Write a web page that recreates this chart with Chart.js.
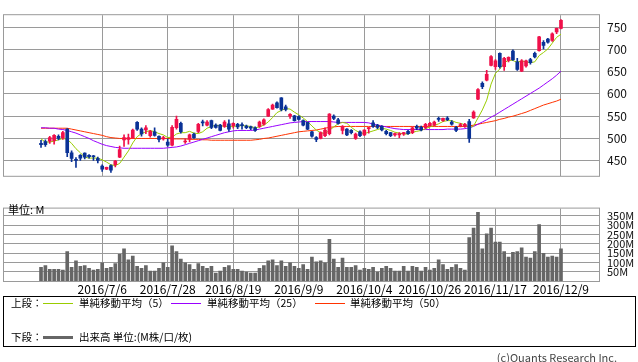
<!DOCTYPE html>
<html>
<head>
<meta charset="utf-8">
<script src="https://cdn.jsdelivr.net/npm/chart.js@4.4.0/dist/chart.umd.min.js"></script>
<style>
  body { margin: 0; width: 638px; height: 362px; background: #fff; position: relative; overflow: hidden;
         font-family: 'Noto Sans CJK JP', sans-serif; color: #000; }
  canvas { position: absolute; left: 0; }
  #price { top: 0; }
  #vol { top: 194px; }
  .t { position: absolute; font-size: 10.5px; line-height: 14px; white-space: nowrap; }
  .ln { position: absolute; height: 1px; width: 30px; }
  #box { position: absolute; left: 3px; top: 296px; width: 631px; height: 49px; border: 1px solid #000; }
</style>
</head>
<body>
<canvas id="price" width="638" height="191"></canvas>
<canvas id="vol" width="638" height="106"></canvas>
<div class="t" style="left:8px;top:202px;font-size:11px;">単位: M</div>
<div id="box"></div>
<div class="t" style="left:11px;top:296px;">上段：</div>
<div class="ln" style="left:43px;top:303px;background:#99cc00;"></div>
<div class="t" style="left:79px;top:296px;">単純移動平均（5）</div>
<div class="ln" style="left:171px;top:303px;background:#9900ff;"></div>
<div class="t" style="left:207px;top:296px;">単純移動平均（25）</div>
<div class="ln" style="left:315px;top:303px;background:#ff3300;"></div>
<div class="t" style="left:350px;top:296px;">単純移動平均（50）</div>
<div class="t" style="left:11px;top:330px;">下段：</div>
<div class="ln" style="left:43px;top:336px;height:3px;background:#666;"></div>
<div class="t" style="left:79px;top:330px;">出来高 単位:(M株/口/枚)</div>
<div class="t" style="right:21px;top:350px;font-size:11px;color:#444;">(c)Quants Research Inc.</div>
<script>
const dates = [
  '2016/6/16','2016/6/17','2016/6/20','2016/6/21','2016/6/22','2016/6/23','2016/6/24','2016/6/27','2016/6/28','2016/6/29',
  '2016/6/30','2016/7/1','2016/7/4','2016/7/5','2016/7/6','2016/7/7','2016/7/8','2016/7/11','2016/7/12','2016/7/13',
  '2016/7/14','2016/7/15','2016/7/19','2016/7/20','2016/7/21','2016/7/22','2016/7/25','2016/7/26','2016/7/27','2016/7/28',
  '2016/7/29','2016/8/1','2016/8/2','2016/8/3','2016/8/4','2016/8/5','2016/8/8','2016/8/9','2016/8/10','2016/8/12',
  '2016/8/15','2016/8/16','2016/8/17','2016/8/18','2016/8/19','2016/8/22','2016/8/23','2016/8/24','2016/8/25','2016/8/26',
  '2016/8/29','2016/8/30','2016/8/31','2016/9/1','2016/9/2','2016/9/5','2016/9/6','2016/9/7','2016/9/8','2016/9/9',
  '2016/9/12','2016/9/13','2016/9/14','2016/9/15','2016/9/16','2016/9/20','2016/9/21','2016/9/23','2016/9/26','2016/9/27',
  '2016/9/28','2016/9/29','2016/9/30','2016/10/3','2016/10/4','2016/10/5','2016/10/6','2016/10/7','2016/10/11','2016/10/12',
  '2016/10/13','2016/10/14','2016/10/17','2016/10/18','2016/10/19','2016/10/20','2016/10/21','2016/10/24','2016/10/25','2016/10/26',
  '2016/10/27','2016/10/28','2016/10/31','2016/11/1','2016/11/2','2016/11/4','2016/11/7','2016/11/8','2016/11/9','2016/11/10',
  '2016/11/11','2016/11/14','2016/11/15','2016/11/16','2016/11/17','2016/11/18','2016/11/21','2016/11/22','2016/11/24','2016/11/25',
  '2016/11/28','2016/11/29','2016/11/30','2016/12/1','2016/12/2','2016/12/5','2016/12/6','2016/12/7','2016/12/8','2016/12/9'
];
const open = [
  489,493,494,495,505,501,521,468,452,462, 467,462,460,455,438,431,439,441,458,497,
  498,502,536,521,519,506,515,505,499,492, 485,524,534,492,499,510,516,536,530,540,
  530,530,527,533,529,532,530,528,526,524, 527,532,550,566,580,591,571,550,551,549,
  540,536,515,502,500,506,511,550,542,518, 521,518,500,515,508,522,535,530,527,516,
  513,508,508,510,516,513,527,525,524,529, 530,544,540,546,537,525,528,527,538,546,
  588,624,631,664,661,691,661,675,696,672, 651,663,677,691,697,716,723,720,739,747
];
const high = [
  496,497,505,509,508,516,522,472,457,464, 468,464,462,458,441,436,441,451,483,508,
  510,521,538,524,529,518,524,506,505,499, 529,550,537,499,510,512,534,541,540,541,
  533,532,540,542,535,534,535,530,528,526, 539,544,567,577,582,592,575,556,552,551,
  542,537,516,504,515,524,556,553,545,529, 522,520,512,517,520,525,540,532,529,518,
  514,512,513,514,518,526,530,528,534,536, 539,548,546,549,540,527,534,534,543,562,
  612,627,653,686,677,692,682,683,699,680, 677,676,680,694,729,720,725,737,748,767
];
const low = [
  480,482,489,487,497,498,459,448,435,451, 454,456,451,445,426,430,424,436,457,482,
  487,500,518,505,511,503,505,492,496,482, 483,521,512,489,492,500,513,528,528,522,
  523,517,525,516,523,522,521,522,520,516, 525,530,549,565,568,562,562,545,539,541,
  528,520,503,493,499,504,508,542,532,510, 506,510,498,504,506,512,525,522,517,508,
  504,505,502,507,509,511,520,517,522,527, 528,538,538,540,530,515,526,525,491,545,
  587,612,629,663,655,658,653,672,675,653, 650,660,667,681,696,701,714,718,735,746
];
const close = [
  486,486,502,507,500,513,468,455,451,456, 458,459,459,451,431,435,429,449,475,502,
  502,519,521,510,524,516,507,498,502,485, 525,543,515,494,508,502,532,535,537,525,
  525,518,537,521,534,526,529,524,523,518, 537,542,565,575,569,565,565,554,540,543,
  530,521,505,498,513,519,555,545,534,527, 508,513,510,506,519,524,527,525,519,511,
  506,511,511,513,511,524,523,519,532,534, 537,543,545,542,532,518,531,532,500,559,
  610,616,644,684,674,661,680,682,677,655, 674,674,670,683,728,709,716,735,747,765
];
const volume = [
  73,83,63,63,63,58,158,73,108,78, 83,68,58,63,98,68,73,93,143,173,
  113,133,78,68,83,53,53,68,98,73, 188,158,118,98,88,63,93,78,68,78,
  43,53,73,83,63,63,53,48,43,43, 68,83,108,113,83,108,78,98,78,68,
  88,63,128,103,108,98,223,118,73,123, 73,73,83,58,68,63,73,48,68,78,
  68,53,53,78,53,78,73,53,73,58, 68,113,88,63,73,88,68,58,233,283,
  368,173,253,283,208,208,158,128,153,158, 178,128,123,158,303,148,128,133,128,173
];
const ma5 = [
  499,492,492,494,497,500,498,489,477,468, 458,456,456,456,452,447,441,439,444,458,
  472,490,504,511,515,518,515,511,508,502, 503,510,513,513,516,512,511,515,523,527,
  530,528,528,526,527,528,529,528,527,524, 526,530,537,547,558,563,567,566,559,553,
  546,538,528,519,513,511,518,526,533,536, 534,525,518,513,511,514,517,520,523,521,
  518,514,512,510,510,514,516,518,522,526, 529,533,538,540,540,536,534,531,524,528,
  546,564,586,622,646,656,669,676,675,671, 674,672,670,672,686,693,701,714,727,734
];
const ma25 = [
  524,524,523,523,521,520,518,515,512,508, 504,500,495,491,487,484,482,480,479,478,
  478,478,478,478,478,478,478,478,478,479, 480,481,483,486,489,492,495,498,501,504,
  507,510,513,515,517,518,518,518,518,519, 521,523,525,527,529,531,533,535,536,537,
  538,538,538,538,538,538,538,537,536,536, 536,536,536,536,536,535,532,530,528,526,
  524,522,521,520,520,520,520,520,520,520, 520,520,520,521,521,521,521,522,524,527,
  532,537,542,548,553,559,565,571,577,583, 589,595,601,607,613,620,627,634,642,651
];
const ma50 = [
  523,523,523,523,523,523,523,521,519,517, 515,513,511,509,507,504,502,501,500,500,
  500,500,500,500,500,500,500,500,500,500, 499,499,499,499,498,498,498,497,497,496,
  496,496,496,496,496,496,496,496,496,497, 498,500,501,503,505,507,509,511,513,515,
  516,517,518,519,521,523,525,526,527,527, 527,527,527,527,527,527,527,527,527,527,
  527,527,527,527,527,527,527,527,527,527, 527,527,527,527,527,527,527,527,528,530,
  532,534,536,538,540,543,545,548,550,553, 556,559,563,567,571,575,578,581,584,588
];
const xTickLabels = ['2016/7/6','2016/7/28','2016/8/19','2016/9/9','2016/10/4','2016/10/26','2016/11/17','2016/12/9'];
const priceTicks = [450, 500, 550, 600, 650, 700, 750];
const volTicks = [50, 100, 150, 200, 250, 300, 350];

const RED = '#f0104a', BLUE = '#0a3296', GRID = '#9a9a9a';
const tickIdx = xTickLabels.map(l => dates.indexOf(l));
const isUp = i => close[i] >= open[i];
const candleColor = ctx => isUp(ctx.dataIndex) ? RED : BLUE;

// grey frame around the plot area
const frame = {
  id: 'frame',
  beforeDatasetsDraw(chart) {
    const a = chart.chartArea, c = chart.ctx;
    c.save();
    c.strokeStyle = GRID;
    c.lineWidth = 1;
    c.strokeRect(a.left + 0.5, a.top - 0.5, a.right - a.left, a.bottom - a.top + 1);
    c.restore();
  }
};

function xScale(showLabels) {
  return {
    type: 'linear', min: -8.7, max: 127.7, offset: false,
    grid: { color: GRID, drawTicks: false, offset: false },
    border: { display: false },
    afterBuildTicks: s => { s.ticks = tickIdx.map(v => ({ value: v })); },
    afterFit: s => { s.height = showLabels ? 19 : 0; },
    ticks: {
      display: showLabels, autoSkip: false, maxRotation: 0, padding: 1, color: '#000',
      font: { family: 'Noto Sans CJK JP', size: 12 },
      callback: (v, i) => xTickLabels[i]
    }
  };
}

function yScale(min, max, list, size, fmt) {
  return {
    position: 'right', min: min, max: max,
    grid: { color: GRID, drawTicks: false },
    border: { display: false },
    afterBuildTicks: s => { s.ticks = list.map(v => ({ value: v })); },
    afterFit: s => { s.width = 39; },
    ticks: { autoSkip: false, padding: 8, color: '#111',
             font: { family: 'Noto Sans CJK JP', size: size }, callback: fmt }
  };
}

const pts = arr => arr.map((v, i) => ({ x: i, y: v }));
const maLine = (arr, color) => ({
  type: 'line', data: pts(arr), borderColor: color, borderWidth: 1,
  pointRadius: 0, tension: 0, fill: false, order: 2
});

new Chart(document.getElementById('price'), {
  type: 'bar',
  data: {
    datasets: [
      { label: 'wick', data: dates.map((d, i) => ({ x: i, y: [low[i], high[i]] })),
        backgroundColor: candleColor, barThickness: 1, grouped: false, order: 1 },
      { label: 'body', data: dates.map((d, i) => ({ x: i, y: [open[i], close[i]] })),
        backgroundColor: candleColor, barThickness: 3, minBarLength: 1, grouped: false, order: 0 },
      maLine(ma5, '#99cc00'),
      maLine(ma25, '#9900ff'),
      maLine(ma50, '#ff3300')
    ]
  },
  options: {
    responsive: false, animation: false, events: [],
    layout: { padding: { left: 3, top: 1, right: 0, bottom: 1 } },
    plugins: { legend: { display: false }, tooltip: { enabled: false } },
    scales: {
      x: xScale(false),
      y: yScale(416.2, 776.7, priceTicks, 12, v => String(v))
    }
  },
  plugins: [frame]
});

new Chart(document.getElementById('vol'), {
  type: 'bar',
  data: {
    datasets: [
      { label: '出来高', data: pts(volume), backgroundColor: '#666666', barThickness: 3, grouped: false }
    ]
  },
  options: {
    responsive: false, animation: false, events: [],
    layout: { padding: { left: 3, top: 8, right: 0, bottom: 0 } },
    plugins: { legend: { display: false }, tooltip: { enabled: false } },
    scales: {
      x: xScale(true),
      y: yScale(0, 388, volTicks, 11, v => v + 'M')
    }
  },
  plugins: [frame]
});
</script>
</body>
</html>
